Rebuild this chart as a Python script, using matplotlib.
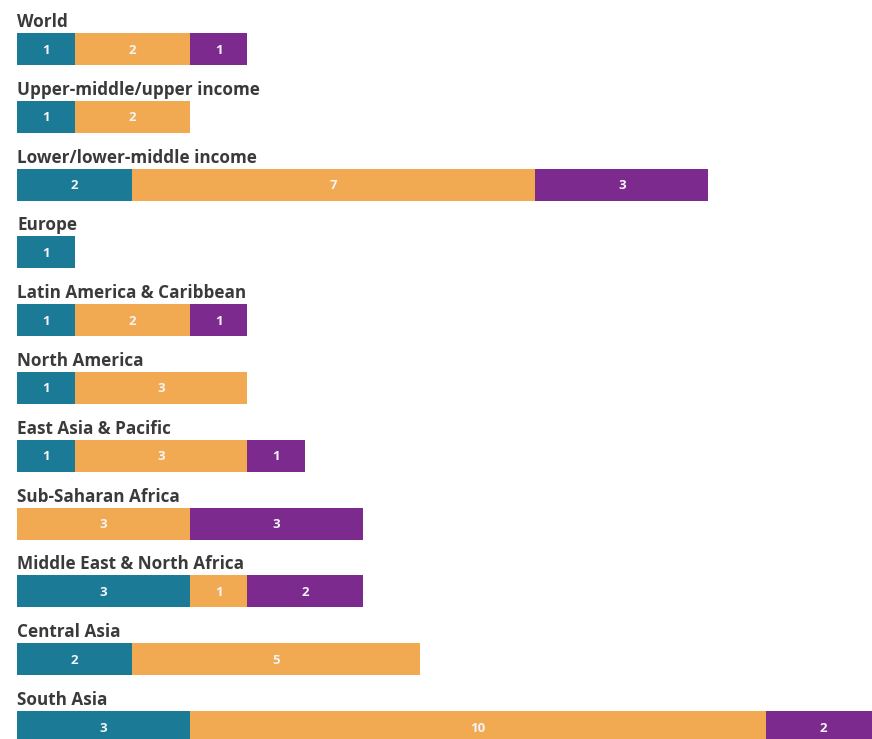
import numpy as np
import matplotlib
matplotlib.use("Agg")
import matplotlib.pyplot as plt

# regions, top to bottom
regions = ["World", "Upper-middle/upper income", "Lower/lower-middle income",
           "Europe", "Latin America & Caribbean", "North America",
           "East Asia & Pacific", "Sub-Saharan Africa",
           "Middle East & North Africa", "Central Asia", "South Asia"]
teal_vals = [1, 1, 2, 1, 1, 1, 1, 0, 3, 2, 3]
orange_vals = [2, 2, 7, 0, 2, 3, 3, 3, 1, 5, 10]
purple_vals = [1, 0, 3, 0, 1, 0, 1, 3, 2, 0, 2]

colors = ["#1b7b96", "#f2aa52", "#7d2a8e"]

W, H = 872, 739
fig = plt.figure(figsize=(W / 100, H / 100), dpi=100)
ax = fig.add_axes([0, 0, 1, 1])

unit = 57.6      # pixels per unit
x0 = 17          # left edge in pixels
row_gap = 67.8
first_center = 49
bar_h = 32

ax.set_xlim(-x0 / unit, (W - x0) / unit)
ax.set_ylim(H, 0)

series = [teal_vals, orange_vals, purple_vals]
for i, name in enumerate(regions):
    yc = first_center + i * row_gap
    left = 0
    for vals, col in zip(series, colors):
        v = vals[i]
        if v == 0:
            continue
        ax.barh(yc, v, left=left, height=bar_h, color=col, edgecolor="none")
        ax.text(left + v / 2, yc + 1, str(v), ha="center", va="center",
                color="#f4f4f8", fontsize=9.5, fontweight="bold", family="Open Sans")
        left += v
    ax.text(0, yc - bar_h / 2 - 6, name, ha="left", va="baseline",
            color="#3a3a3a", fontsize=12.3, fontweight="bold", family="Open Sans")

ax.axis("off")
fig.savefig("out.png", dpi=100)
